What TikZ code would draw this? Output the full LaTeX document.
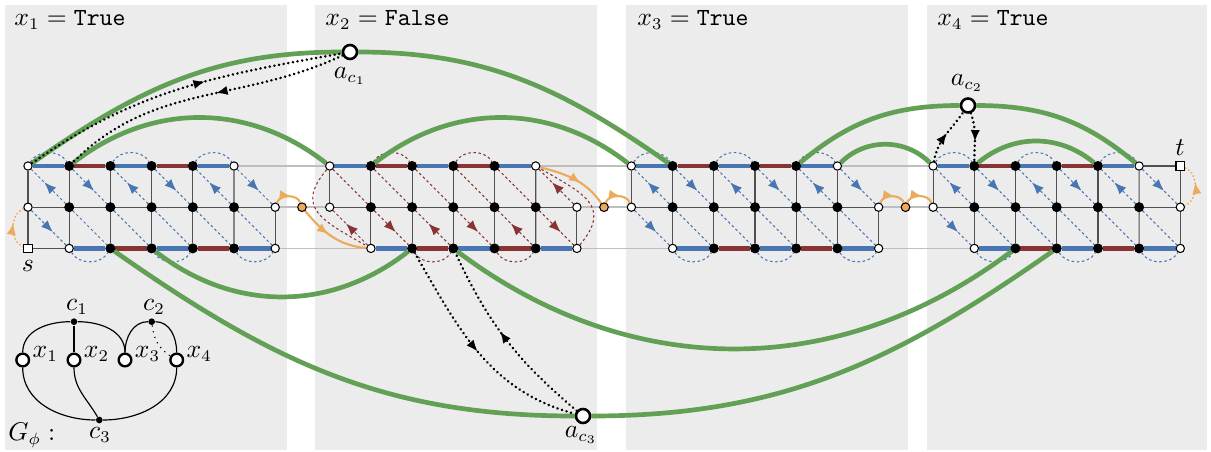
\documentclass[tikz,border=0pt]{standalone}
\usepackage{amsmath}
\usepackage{amssymb}
\usepackage{tikz}
\usetikzlibrary{positioning, arrows.meta, decorations.markings}

\definecolor{panelgray}{RGB}{236,236,236}
\definecolor{truecol}{RGB}{72,118,178}
\definecolor{falsecol}{RGB}{136,52,52}
\definecolor{clausecol}{RGB}{98,160,86}
\definecolor{walkcol}{RGB}{236,170,92}
\definecolor{railcol}{RGB}{190,190,190}
\definecolor{gridcol}{RGB}{80,80,80}

\pgfdeclarelayer{back}
\pgfdeclarelayer{front}
\pgfsetlayers{back,front,main}

\begin{document}
\begin{tikzpicture}[x=0.015cm, y=-0.015cm,
        every node/.style={font=\fontsize{10.5}{12.6}\selectfont},
        litv/.style={circle, draw, fill=white, inner sep=0pt, minimum size=0.125cm, line width=0.45pt},
        fixv/.style={circle, draw, fill=black, inner sep=0pt, minimum size=0.135cm},
        endv/.style={rectangle, draw, fill=white, inner sep=0pt, minimum size=0.13cm, line width=0.45pt},
        hopv/.style={circle, draw, fill=walkcol, inner sep=0pt, minimum size=0.13cm, line width=0.45pt},
        clsv/.style={circle, draw, fill=white, inner sep=0pt, minimum size=0.21cm, line width=1.1pt},
        varv/.style={circle, draw, fill=white, inner sep=0pt, minimum size=0.19cm, line width=1pt},
        cv/.style={circle, fill=black, inner sep=0pt, minimum size=0.1cm},
        midtip/.style={postaction={decorate}, decoration={markings,
            mark=at position #1 with {\arrow{Latex[length=5pt,width=4pt]}}}},
        midtip/.default=0.62,
        railline/.style={railcol, line width=0.65pt},
        gridline/.style={gridcol, line width=0.5pt},
        litseg/.style={line width=1.8pt},
        cycline/.style={line width=0.45pt, dash pattern=on 1.1pt off 1.1pt},
        walkline/.style={walkcol, line width=0.9pt},
        clauseline/.style={clausecol, line width=2pt},
        pickline/.style={black, line width=1.2pt, line cap=round, dash pattern=on 0.01pt off 2pt},
        headtext/.style={anchor=base west, inner sep=0pt}
    ]
    \useasboundingbox (0,0) rectangle (1211,452);

    % panels and headings
    \begin{pgfonlayer}{back}
        \foreach \px/\qx in {5/287,315/597,626/908,927/1207}
            \fill[panelgray] (\px,5) rectangle (\qx,450);
    \end{pgfonlayer}
    \node[headtext] (h1) at (14,26) {$x_1 = \texttt{True}$};
    \node[headtext] (h2) at (325,26) {$x_2 = \texttt{False}$};
    \node[headtext] (h3) at (637,26) {$x_3 = \texttt{True}$};
    \node[headtext] (h4) at (937,26) {$x_4 = \texttt{True}$};

    % variable gadgets
    \foreach \k/\gx in {1/28,2/329.7,3/631.4,4/933.1}{
        \node[litv] (T-\k-0) at (\gx,166) {};
        \foreach \c in {1,...,4}
            \node[fixv] (T-\k-\c) at (\gx+41.2*\c,166) {};
        \node[litv] (T-\k-5) at (\gx+206,166) {};
        \node[litv] (M-\k-0) at (\gx,207.2) {};
        \foreach \c in {1,...,5}
            \node[fixv] (M-\k-\c) at (\gx+41.2*\c,207.2) {};
        \node[litv] (M-\k-6) at (\gx+247.2,207.2) {};
        \node[litv] (B-\k-1) at (\gx+41.2,248.4) {};
        \foreach \c in {2,...,5}
            \node[fixv] (B-\k-\c) at (\gx+41.2*\c,248.4) {};
        \node[litv] (B-\k-6) at (\gx+247.2,248.4) {};
    }
    \foreach \h/\hx in {1/302,2/604,3/905.5}
        \node[hopv] (H-\h) at (\hx,207.2) {};
    \node[endv] (s) at (28,248.4) {};
    \node[endv] (t) at (1180.3,166) {};
    \node (ls) at (28,266) {$s$};
    \node (lt) at (1180,148) {$t$};

    % clause vertices
    \node[clsv] (ac1) at (350,52) {};
    \node[clsv] (ac2) at (968,105.5) {};
    \node[clsv] (ac3) at (583,416) {};
    \node (lac1) at (350,76) {$a_{c_1}$};
    \node (lac2) at (967,83) {$a_{c_2}$};
    \node (lac3) at (581,435) {$a_{c_3}$};

    \begin{pgfonlayer}{back}
        \foreach \k/\n in {1/2,2/3,3/4}{
            \draw[railline] (T-\k-5) -- (T-\n-0);
            \draw[railline] (M-\k-6) -- (H-\k) -- (M-\n-0);
            \draw[railline] (B-\k-6) -- (B-\n-1);
        }
        \foreach \k in {1,...,4}{
            \draw[gridline] (M-\k-0) -- (M-\k-6);
            \draw[gridline] (T-\k-0) -- (M-\k-0);
            \foreach \c in {1,...,5}
                \draw[gridline] (T-\k-\c) -- (B-\k-\c);
            \draw[gridline] (M-\k-6) -- (B-\k-6);
            \foreach \a/\b/\col in {0/1/truecol,1/2/falsecol,2/3/truecol,3/4/falsecol,4/5/truecol}
                \draw[litseg, \col] (T-\k-\a) -- (T-\k-\b);
            \foreach \a/\b/\col in {1/2/truecol,2/3/falsecol,3/4/truecol,4/5/falsecol,5/6/truecol}
                \draw[litseg, \col] (B-\k-\a) -- (B-\k-\b);
        }
        \draw[gridline] (M-1-0) -- (s) -- (B-1-1);
        \draw[gridline] (T-4-5) -- (t) -- (M-4-6);

        % true gadgets: blue cycles
        \foreach \k in {1,3,4}{
            \draw[cycline, truecol, midtip] (M-\k-0) -- (B-\k-1);
            \foreach \j [evaluate=\j as \m using {int(\j+1)},
                         evaluate=\j as \n using {int(\j+2)}] in {0,...,4}
                \draw[cycline, truecol] (M-\k-\m) -- (B-\k-\n);
            \foreach \j [evaluate=\j as \m using {int(\j+1)}] in {0,2,4}
                \draw[cycline, truecol, midtip] (M-\k-\m) -- (T-\k-\j);
            \foreach \j [evaluate=\j as \m using {int(\j+1)}] in {1,3}
                \draw[cycline, truecol, midtip] (T-\k-\j) -- (M-\k-\m);
            \draw[cycline, truecol, midtip] (T-\k-5) -- (M-\k-6);
            \foreach \a/\b in {0/1,2/3,4/5}
                \draw[cycline, truecol] (T-\k-\a) to[bend left=60] (T-\k-\b);
            \foreach \a/\b in {1/2,3/4,5/6}
                \draw[cycline, truecol] (B-\k-\a) to[bend right=60] (B-\k-\b);
        }

        % false gadget: red cycle
        \draw[cycline, falsecol, midtip] (B-2-1) -- (M-2-0);
        \foreach \j [evaluate=\j as \m using {int(\j+1)}] in {0,...,4}
            \draw[cycline, falsecol] (T-2-\j) -- (M-2-\m);
        \foreach \j [evaluate=\j as \m using {int(\j+1)},
                     evaluate=\j as \n using {int(\j+2)}] in {0,2,4}
            \draw[cycline, falsecol, midtip] (M-2-\m) -- (B-2-\n);
        \foreach \j [evaluate=\j as \m using {int(\j+1)},
                     evaluate=\j as \n using {int(\j+2)}] in {1,3}
            \draw[cycline, falsecol, midtip] (B-2-\n) -- (M-2-\m);
        \draw[cycline, falsecol, midtip] (M-2-6) -- (T-2-5);
        \foreach \a/\b in {1/2,3/4}
            \draw[cycline, falsecol] (T-2-\a) to[bend left=60] (T-2-\b);
        \foreach \a/\b in {2/3,4/5}
            \draw[cycline, falsecol] (B-2-\a) to[bend right=60] (B-2-\b);
        \draw[cycline, falsecol] (T-2-0) to[out=230, in=150, looseness=1.5] (B-2-1);
        \draw[cycline, falsecol] (B-2-6) to[out=50, in=-30, looseness=1.5] (T-2-5);
    \end{pgfonlayer}

    \begin{pgfonlayer}{front}
        % the s-t walk
        \draw[walkline, midtip=0.6, line cap=round, dash pattern=on 0.01pt off 1.6pt] (s) to[bend left=70] (M-1-0);
        \draw[walkline, midtip=0.6] (M-1-6) to[bend left=70] (H-1);
        \draw[walkline, midtip=0.45] (H-1) to[out=-50, in=175] (B-2-1);
        \draw[walkline, midtip=0.6] (T-2-5) to[out=-15, in=125] (H-2);
        \draw[walkline, midtip=0.6] (H-2) to[bend left=70] (M-3-0);
        \draw[walkline, midtip=0.6] (M-3-6) to[bend left=70] (H-3);
        \draw[walkline, midtip=0.6] (H-3) to[bend left=70] (M-4-0);
        \draw[walkline, midtip=0.6, line cap=round, dash pattern=on 0.01pt off 1.6pt] (M-4-6) to[bend right=70] (t);

        % clause edges
        \draw[clauseline] (T-1-0) to[out=35, in=180] (ac1);
        \draw[clauseline] (ac1) to[out=0, in=145] (T-3-1);
        \draw[clauseline] (T-1-1) to[out=38, in=142] (T-2-0);
        \draw[clauseline] (T-2-1) to[out=38, in=142] (T-3-0);
        \draw[clauseline] (T-3-4) to[out=40, in=180] (ac2);
        \draw[clauseline] (ac2) to[out=0, in=140] (T-4-5);
        \draw[clauseline] (T-3-5) to[out=45, in=135] (T-4-0);
        \draw[clauseline] (T-4-1) to[out=40, in=140] (T-4-4);
        \draw[clauseline] (B-1-2) to[out=-35, in=180] (ac3);
        \draw[clauseline] (ac3) to[out=0, in=-145] (B-4-3);
        \draw[clauseline] (B-1-3) to[out=-38, in=-142] (B-2-2);
        \draw[clauseline] (B-2-3) to[out=-37, in=-143] (B-4-2);

        % chosen literal arcs
        \draw[pickline, midtip=0.58] (T-1-0) to[out=35, in=190] (ac1);
        \draw[pickline, midtip=0.45] (ac1) to[out=205, in=45] (T-1-1);
        \draw[pickline, midtip=0.55] (T-4-0) to[out=80, in=235] (ac2);
        \draw[pickline, midtip=0.6] (ac2) to[out=-70, in=90] (T-4-1);
        \draw[pickline, midtip=0.5] (B-2-2) to[out=-60, in=165] (ac3);
        \draw[pickline, midtip=0.55] (ac3) to[out=140, in=-65] (B-2-3);
    \end{pgfonlayer}

    % the formula graph
    \foreach \v/\vx in {1/22.7,2/74,3/125,4/176.7}{
        \node[varv] (x\v) at (\vx,360) {};
        \node[anchor=west, inner sep=0pt] (lx\v) at (\vx+9.5,354) {$x_\v$};
    }
    \node[cv] (c1) at (74,321.7) {};
    \node[cv] (c2) at (151.7,321.7) {};
    \node[cv] (c3) at (99.3,420) {};
    \node (lc1) at (77,307) {$c_1$};
    \node (lc2) at (154,307) {$c_2$};
    \node (lc3) at (100,435) {$c_3$};
    \node[anchor=west, inner sep=0pt] (gphi) at (8,435) {$G_\phi :$};
    \draw[line width=0.5pt] (x1) to[out=90, in=180] (c1);
    \draw[line width=0.5pt] (c1) -- (x2);
    \draw[line width=0.5pt] (c1) to[out=0, in=90] (x3);
    \draw[line width=0.5pt] (x3) to[out=90, in=180] (c2);
    \draw[line width=0.5pt] (c2) to[out=0, in=90] (x4);
    \draw[line width=0.5pt, dotted] (c2) to[bend right=25] (x4);
    \draw[line width=0.5pt] (x1) to[out=-90, in=180] (c3);
    \draw[line width=0.5pt] (x2) to[out=-90, in=120] (c3);
    \draw[line width=0.5pt] (x4) to[out=-90, in=0] (c3);
\end{tikzpicture}
\end{document}
